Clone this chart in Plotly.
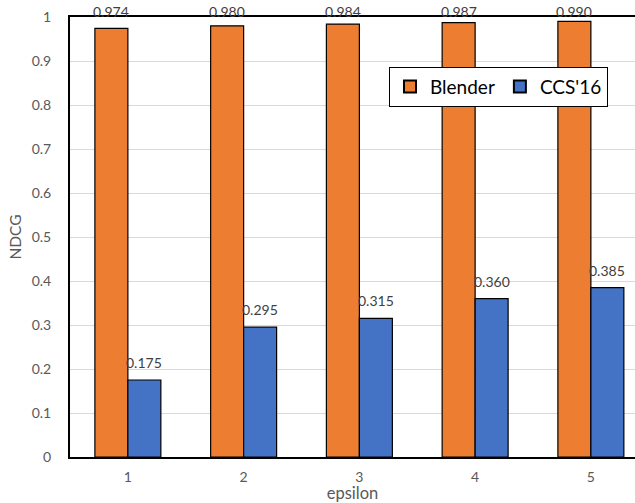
import plotly.graph_objects as go

categories = [1, 2, 3, 4, 5]
tick_labels = ["1", "2", "3", "4", "5"]
blender = [0.974, 0.980, 0.984, 0.987, 0.990]
ccs16 = [0.175, 0.295, 0.315, 0.360, 0.385]
series_names = ["Blender", "CCS'16"]
colors = ["#ED7D31", "#4472C4"]

FONT = "Lato"
BARGAP = 0.43
half = (1 - BARGAP) / 4  # offset of each bar centre from category centre
Y_MAX = 1.0

fig = go.Figure()
for name, vals, col in zip(series_names, [blender, ccs16], colors):
    fig.add_trace(go.Bar(
        x=categories, y=vals, name=name,
        marker=dict(color=col, line=dict(color="black", width=1.2)),
        cliponaxis=False,
    ))

annotations = []
label_font = dict(family=FONT, size=14, color="#404040")
# Blender labels: clamped to the top of the chart area (as in the original)
for c, v in zip(categories, blender):
    annotations.append(dict(
        x=c - half, y=Y_MAX, xref="x", yref="y",
        text=f"{v:.3f}", showarrow=False,
        yanchor="middle", yshift=6, font=label_font,
    ))
# CCS'16 labels: just above each bar
for c, v in zip(categories, ccs16):
    annotations.append(dict(
        x=c + half, y=v, xref="x", yref="y",
        text=f"{v:.3f}", showarrow=False,
        yanchor="bottom", yshift=7, font=label_font,
    ))

fig.update_layout(
    width=635, height=503,
    margin=dict(l=70, r=0, t=17, b=46, pad=0),
    paper_bgcolor="white", plot_bgcolor="white",
    barmode="group", bargap=BARGAP, bargroupgap=0,
    font=dict(family=FONT, color="#595959"),
    annotations=annotations,
    showlegend=True,
    legend=dict(
        orientation="h", x=0.5646, y=0.887, xanchor="left", yanchor="top",
        bgcolor="white", bordercolor="black", borderwidth=1,
        font=dict(family=FONT, size=19, color="black"),
        itemsizing="constant",
    ),
    xaxis=dict(
        range=[0.5, 0.5 + 565 / 115.75], automargin=False,
        tickmode="array", tickvals=categories, ticktext=tick_labels,
        showgrid=False, showline=True, linecolor="black", linewidth=2,
        mirror=True, ticks="", ticklabelstandoff=6, ticklabeloverflow="allow",
        tickfont=dict(family=FONT, size=14, color="#595959"),
        title=dict(text="epsilon", font=dict(family=FONT, size=16.5, color="#595959"), standoff=3),
    ),
    yaxis=dict(
        range=[0, Y_MAX], dtick=0.1, tick0=0, automargin=False,
        tickformat="~g", ticklabeloverflow="allow",
        showgrid=True, gridcolor="#D9D9D9", gridwidth=1,
        showline=True, linecolor="black", linewidth=2, mirror=False,
        zeroline=False, ticks="", ticklabelstandoff=14,
        tickfont=dict(family=FONT, size=14, color="#595959"),
        title=dict(text="NDCG", font=dict(family=FONT, size=15.5, color="#595959"), standoff=6),
    ),
)

fig.write_html("out.html", config={"displayModeBar": False},
               post_script="document.body.style.margin='0px';")
